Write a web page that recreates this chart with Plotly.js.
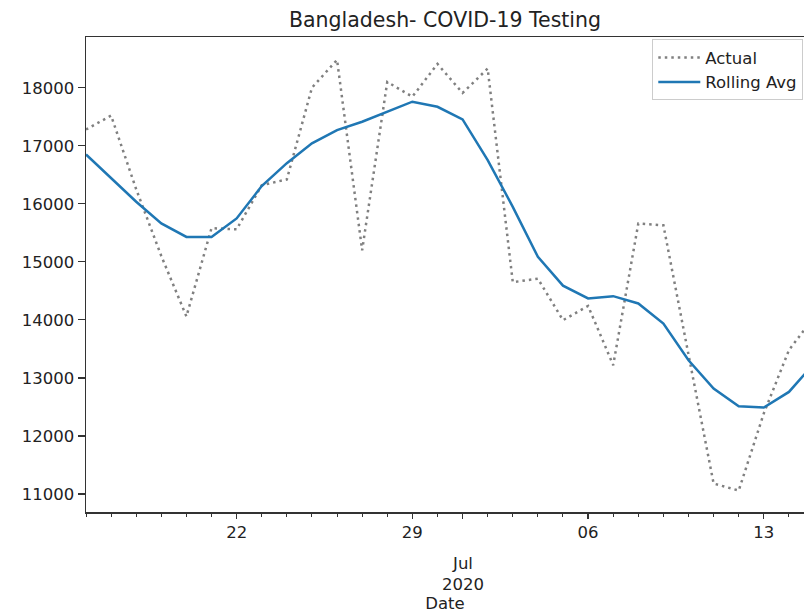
<!DOCTYPE html>
<html>
<head>
<meta charset="utf-8">
<script src="https://cdn.plot.ly/plotly-3.0.1.min.js"></script>
<style>
  html, body { margin: 0; padding: 0; background: #ffffff; }
  #chart { width: 804px; height: 613px; }
</style>
</head>
<body>
<div id="chart"></div>
<script>
const dates = [
  '2020-06-16','2020-06-17','2020-06-18','2020-06-19','2020-06-20','2020-06-21','2020-06-22',
  '2020-06-23','2020-06-24','2020-06-25','2020-06-26','2020-06-27','2020-06-28','2020-06-29',
  '2020-06-30','2020-07-01','2020-07-02','2020-07-03','2020-07-04','2020-07-05','2020-07-06',
  '2020-07-07','2020-07-08','2020-07-09','2020-07-10','2020-07-11','2020-07-12','2020-07-13',
  '2020-07-14','2020-07-15'
];
const actual = [
  17280, 17520, 16250, 15100, 14060, 15580, 15560,
  16320, 16420, 18000, 18480, 15200, 18100, 17845,
  18410, 17910, 18330, 14650, 14710, 13995, 14240,
  13220, 15660, 15630, 13400, 11180, 11060, 12390,
  13480, 14050
];
const rollingAvg = [
  16850, 16445, 16035, 15662, 15430, 15430, 15748,
  16305, 16700, 17041, 17271, 17414, 17580, 17759,
  17672, 17455, 16753, 15948, 15086, 14590, 14369,
  14409, 14283, 13938, 13305, 12817, 12512, 12489,
  12759, 13250
];
const xTickVals = ['2020-06-22', '2020-06-29', '2020-07-01', '2020-07-06', '2020-07-13'];
const xTickText = ['22', '29', '', '06', '13'];
const monthYearLabel = 'Jul<br>2020';
const monthDate = '2020-07-01';

const FONT = 'DejaVu Sans, sans-serif';
const AXC = '#333333';
const FS = 16.5;

const traces = [
  {
    x: dates, y: actual, name: 'Actual', type: 'scatter', mode: 'lines',
    line: { color: '#808080', width: 2.5, dash: '2.5px,4px' }
  },
  {
    x: dates, y: rollingAvg, name: 'Rolling Avg', type: 'scatter', mode: 'lines',
    line: { color: '#1f77b4', width: 2.5 }
  }
];

const plotH = 475;
function py(pix) { return -(pix - 512) / plotH; }

const layout = {
  width: 804, height: 613,
  margin: { l: 86, r: 0, t: 37, b: 101, pad: 0 },
  paper_bgcolor: '#ffffff', plot_bgcolor: '#ffffff',
  font: { family: FONT, size: FS, color: '#222222' },
  showlegend: true,
  title: {
    text: 'Bangladesh- COVID-19 Testing',
    font: { family: FONT, size: 20.5, color: '#222222' },
    x: 0.5, xref: 'paper', xanchor: 'center',
    y: 1 - 20 / 613, yref: 'container', yanchor: 'middle'
  },
  xaxis: {
    type: 'date',
    range: ['2020-06-16', '2020-07-14 14:24'],
    tickmode: 'array', tickvals: xTickVals, ticktext: xTickText,
    ticks: 'outside', ticklen: 5, tickwidth: 1.2, tickcolor: AXC,
    minor: { dtick: 86400000, tick0: '2020-06-16', ticks: 'outside', ticklen: 3, tickwidth: 1, tickcolor: AXC, showgrid: false },
    showgrid: false, zeroline: false,
    showline: true, linecolor: AXC, linewidth: 1.5, mirror: true,
    tickfont: { family: FONT, size: FS, color: '#222222' },
    title: { text: 'Date', font: { family: FONT, size: FS, color: '#222222' }, standoff: 57 },
    automargin: false
  },
  yaxis: {
    range: [10690, 18874],
    tickmode: 'linear', tick0: 11000, dtick: 1000, tickformat: 'd',
    ticks: 'outside', ticklen: 7, tickwidth: 1.2, tickcolor: AXC,
    showgrid: false, zeroline: false,
    showline: true, linecolor: AXC, linewidth: 1.5, mirror: false,
    tickfont: { family: FONT, size: FS, color: '#222222' },
    automargin: false
  },
  legend: {
    x: 0.999, xanchor: 'right', y: 0.995, yanchor: 'top',
    bgcolor: '#ffffff', bordercolor: '#cccccc', borderwidth: 1,
    font: { family: FONT, size: FS, color: '#222222' },
    itemwidth: 42,
    tracegroupgap: 0
  },
  annotations: [
    { x: monthDate, xref: 'x', y: py(573.5), yref: 'paper', text: monthYearLabel, showarrow: false,
      xanchor: 'center', yanchor: 'middle', align: 'center',
      font: { family: FONT, size: FS, color: '#222222' } }
  ]
};

Plotly.newPlot('chart', traces, layout, { staticPlot: true, displayModeBar: false });
</script>
</body>
</html>
